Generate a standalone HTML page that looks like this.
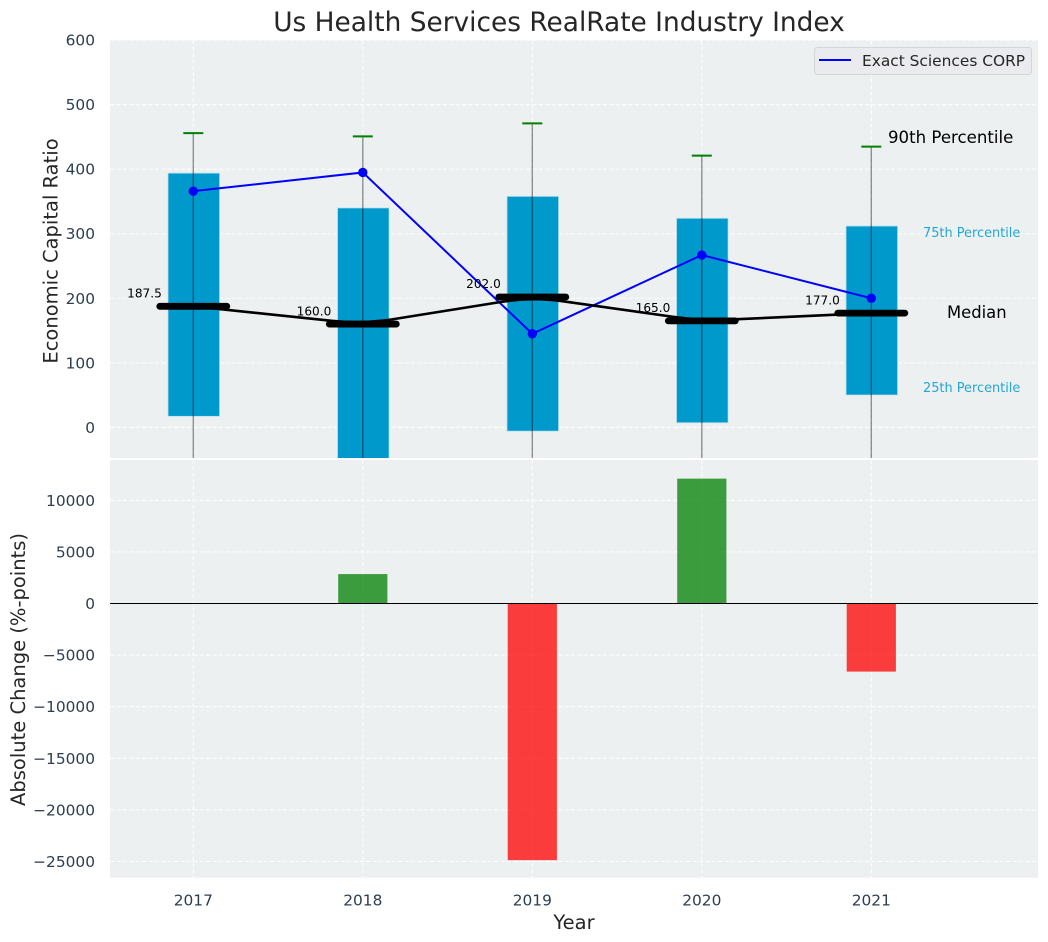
<!DOCTYPE html>
<html lang="en">
<head>
<meta charset="utf-8">
<title>Us Health Services RealRate Industry Index</title>
<style>
html,body{margin:0;padding:0;background:#fff;width:1048px;height:942px;overflow:hidden}
svg{display:block;font-family:"DejaVu Sans","Liberation Sans",sans-serif}
</style>
</head>
<body>
<svg id="chart" xmlns="http://www.w3.org/2000/svg" width="1048" height="942" viewBox="0 0 1048 942">
  <defs>
    <clipPath id="clip-top"><rect x="110" y="40" width="928" height="418"/></clipPath>
    <clipPath id="clip-bottom"><rect x="110" y="460" width="928" height="417.7"/></clipPath>
  </defs>
  <rect x="110" y="40" width="928" height="418" fill="#ecf0f1"/>
  <rect x="110" y="460" width="928" height="417.7" fill="#ecf0f1"/>
  <g id="grid-top"></g>
  <g id="grid-bottom"></g>
  <g id="marks-top" clip-path="url(#clip-top)"></g>
  <g id="marks-bottom" clip-path="url(#clip-bottom)"></g>
  <g id="labels"></g>
  <text x="559" y="31" text-anchor="middle" font-size="26.4" fill="#262626">Us Health Services RealRate Industry Index</text>
  <text transform="translate(57.5,251) rotate(-90)" text-anchor="middle" font-size="19.5" fill="#262626">Economic Capital Ratio</text>
  <text transform="translate(25,669.5) rotate(-90)" text-anchor="middle" font-size="19.5" fill="#262626">Absolute Change (%-points)</text>
  <text x="574" y="929" text-anchor="middle" font-size="19.5" fill="#262626">Year</text>
  <text x="888" y="143" font-size="16.6" fill="#000">90th Percentile</text>
  <text x="923" y="237" font-size="12.9" fill="#0099cc" fill-opacity="0.85">75th Percentile</text>
  <text x="947" y="318" font-size="16.4" fill="#000">Median</text>
  <text x="923" y="392" font-size="12.9" fill="#0099cc" fill-opacity="0.85">25th Percentile</text>
  <g>
    <rect x="814.5" y="47.5" width="217" height="27" rx="3" fill="#e9ebef" stroke="#d3d5d8" stroke-width="1"/>
    <line x1="819" y1="60" x2="851" y2="60" stroke="#0000ff" stroke-width="2"/>
    <text x="862" y="66" font-size="15.4" fill="#262626">Exact Sciences CORP</text>
  </g>
</svg>
<script>
const years = [2017, 2018, 2019, 2020, 2021];
const p10 = [-130, -140, -120, -110, -90];
const p25 = [17, -60, -6, 7, 50];
const p50 = [187.5, 160, 202, 165, 177];
const p75 = [394, 340, 358, 324, 312];
const p90 = [456, 451, 471, 421, 435];
const company = [366, 395, 145, 267, 200];
const changes = [null, 2850, -24870, 12100, -6600];
const topTicks = [0, 100, 200, 300, 400, 500, 600];
const bottomTicks = [-25000, -20000, -15000, -10000, -5000, 0, 5000, 10000];

const NS = 'http://www.w3.org/2000/svg';
const x = function (year) { return 193.3 + (year - 2017) * 169.5; };
const yTop = function (v) { return 427.3 - v * 0.6452; };
const yBot = function (v) { return 603.5 - v * 0.01032; };
const gridTop = document.getElementById('grid-top');
const gridBottom = document.getElementById('grid-bottom');
const marksTop = document.getElementById('marks-top');
const marksBottom = document.getElementById('marks-bottom');
const labels = document.getElementById('labels');

function make(tag, parent, attrs, text) {
  const el = document.createElementNS(NS, tag);
  Object.keys(attrs).forEach(function (k) { el.setAttribute(k, attrs[k]); });
  if (text !== undefined) el.textContent = text;
  parent.appendChild(el);
  return el;
}
const dash = { stroke: '#ffffff', 'stroke-width': 1.1, 'stroke-dasharray': '4.2 2.2', 'stroke-opacity': 0.9 };

topTicks.forEach(function (t) {
  const g = make('line', gridTop, Object.assign({ x1: 110, x2: 1038, y1: yTop(t), y2: yTop(t) }, dash));
  
  
  const l = make('text', labels, { x: 95, y: yTop(t) + 5.5, 'text-anchor': 'end', 'font-size': 15.4, fill: '#2c3e50' }, String(t));
  
  
});
bottomTicks.forEach(function (t) {
  const g = make('line', gridBottom, Object.assign({ x1: 110, x2: 1038, y1: yBot(t), y2: yBot(t) }, dash));
  
  
  const txt = t < 0 ? '\u2212' + Math.abs(t) : String(t);
  const l = make('text', labels, { x: 95, y: yBot(t) + 5.5, 'text-anchor': 'end', 'font-size': 15.4, fill: '#2c3e50' }, txt);
  
  
});
years.forEach(function (yr) {
  const a = make('line', gridTop, Object.assign({ x1: x(yr), x2: x(yr), y1: 40, y2: 458 }, dash));
  
  
  const b = make('line', gridBottom, Object.assign({ x1: x(yr), x2: x(yr), y1: 460, y2: 877.7 }, dash));
  
  
  const l = make('text', labels, { x: x(yr), y: 905.5, 'text-anchor': 'middle', 'font-size': 15.4, fill: '#2c3e50' }, String(yr));
  
  
});

years.forEach(function (yr, i) {
  const box = make('rect', marksTop, { x: x(yr) - 25.3, y: yTop(p75[i]), width: 51.6, height: yTop(p25[i]) - yTop(p75[i]), fill: '#0099cc', stroke: '#bfe3ee', 'stroke-width': 0.8 });
  
  
});
years.forEach(function (yr, i) {
  const w = make('line', marksTop, { x1: x(yr), x2: x(yr), y1: yTop(p90[i]), y2: yTop(p10[i]), stroke: '#000', 'stroke-opacity': 0.42, 'stroke-width': 1.4 });
  
  
  const c = make('line', marksTop, { x1: x(yr) - 10, x2: x(yr) + 10, y1: yTop(p90[i]), y2: yTop(p90[i]), stroke: '#008000', 'stroke-width': 2 });
  
  
});

/* company line */
const companyPts = years.map(function (yr, i) { return x(yr) + ',' + yTop(company[i]); }).join(' ');
const companyLine = make('polyline', marksTop, { points: companyPts, fill: 'none', stroke: '#0000ff', 'stroke-width': 2 });


years.forEach(function (yr, i) {
  const d = make('circle', marksTop, { cx: x(yr), cy: yTop(company[i]), r: 4.7, fill: '#0000ff' });
  
  
});

/* median trend: straight runs with softened corners at each median */
const soft = 30;
let trend = 'M' + x(years[0]) + ' ' + yTop(p50[0]);
for (let i = 1; i < years.length; i++) {
  const cx = x(years[i]);
  const cy = yTop(p50[i]);
  const px = x(years[i - 1]);
  const py = yTop(p50[i - 1]);
  const f = soft / (cx - px);
  if (i < years.length - 1) {
    const nx = x(years[i + 1]);
    const ny = yTop(p50[i + 1]);
    trend += ' L' + (cx - soft) + ' ' + (cy - (cy - py) * f);
    trend += ' Q' + cx + ' ' + cy + ' ' + (cx + soft) + ' ' + (cy + (ny - cy) * f);
  } else {
    trend += ' L' + cx + ' ' + cy;
  }
}
const trendLine = make('path', marksTop, { d: trend, fill: 'none', stroke: '#000', 'stroke-width': 2.6, 'stroke-linecap': 'round' });


years.forEach(function (yr, i) {
  const m = make('line', marksTop, { x1: x(yr) - 33.5, x2: x(yr) + 33.5, y1: yTop(p50[i]), y2: yTop(p50[i]), stroke: '#000', 'stroke-width': 6.8, 'stroke-linecap': 'round' });
  
  
  const t = make('text', labels, { x: x(yr) - 31.5, y: yTop(p50[i]) - 8.8, 'text-anchor': 'end', 'font-size': 12.1, fill: '#000' }, p50[i].toFixed(1));
  
  
});

/* change bars */
years.forEach(function (yr, i) {
  if (changes[i] === null) return;
  const v = changes[i];
  const b = make('rect', marksBottom, { x: x(yr) - 24.6, y: Math.min(yBot(v), yBot(0)), width: 49.2, height: Math.abs(yBot(v) - yBot(0)), fill: v >= 0 ? '#008000' : '#ff0000', 'fill-opacity': 0.75 });
  
  
});
const zero = make('line', marksBottom, { x1: 110, x2: 1038, y1: yBot(0), y2: yBot(0), stroke: '#000', 'stroke-width': 1.1 });


</script>
</body>
</html>
